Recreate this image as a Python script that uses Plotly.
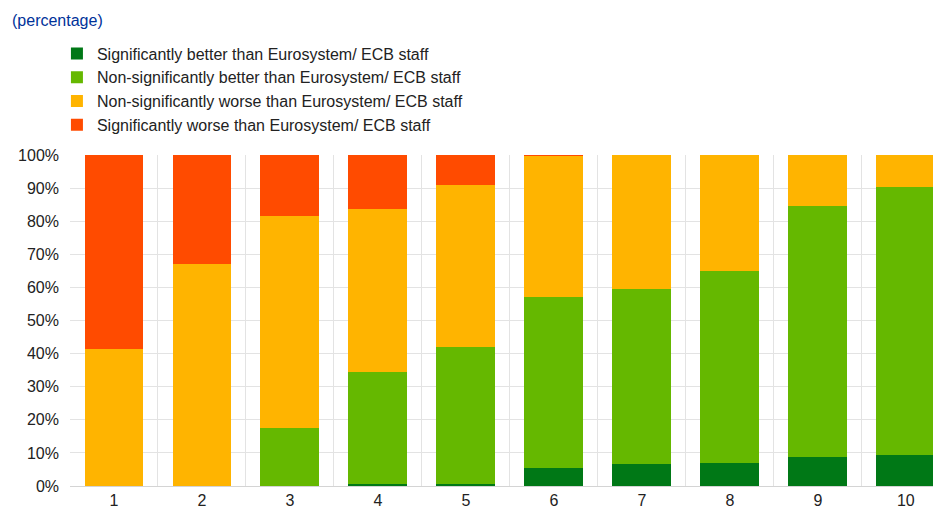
import plotly.graph_objects as go

# Categories and shares (percent)
categories = [1, 2, 3, 4, 5, 6, 7, 8, 9, 10]
sig_better = [0, 0, 0, 0.7, 0.7, 5.5, 6.6, 6.8, 8.9, 9.5]
nonsig_better = [0, 0, 17.4, 33.6, 41.2, 51.5, 52.9, 58.1, 75.7, 80.9]
nonsig_worse = [41.5, 67.1, 64.3, 49.5, 49.0, 42.8, 40.5, 35.1, 15.4, 9.6]
sig_worse = [58.5, 32.9, 18.3, 16.2, 9.1, 0.2, 0, 0, 0, 0]

series = [
    ("Significantly better than Eurosystem/ ECB staff", sig_better, "#007816"),
    ("Non-significantly better than Eurosystem/ ECB staff", nonsig_better, "#65B800"),
    ("Non-significantly worse than Eurosystem/ ECB staff", nonsig_worse, "#FFB400"),
    ("Significantly worse than Eurosystem/ ECB staff", sig_worse, "#FF4B00"),
]

fig = go.Figure()
for i, (name, vals, col) in enumerate(series):
    fig.add_trace(go.Bar(
        x=categories, y=vals, name=name, legendgroup="g%d" % i,
        marker=dict(color=col, line=dict(width=0)),
        hovertemplate="%{y:.1f}%<extra>" + name + "</extra>",
    ))

# the page body adds an 8px margin, so the figure is sized to fit inside it
fig.update_layout(
    width=933, height=504,
    barmode="stack", bargap=0.33,
    plot_bgcolor="white", paper_bgcolor="white",
    font=dict(family="Liberation Sans, Arial, sans-serif", size=16, color="#222222"),
    margin=dict(l=62, r=0, t=147, b=26),
    title=dict(
        text="(percentage)", xref="container", yref="container",
        x=4/933, y=1 - 12/504, xanchor="left", yanchor="middle",
        font=dict(size=16, color="#003299"),
    ),
    legend=dict(
        x=-0.015, y=1.358, xanchor="left", yanchor="top",
        traceorder="grouped", tracegroupgap=0,
        font=dict(size=16, color="#222222"),
        bgcolor="rgba(0,0,0,0)",
    ),
    xaxis=dict(
        range=[0.5, 10.4], tickmode="array", tickvals=categories,
        showgrid=False, showline=True, linecolor="#d4d4d4", linewidth=1,
        ticks="", tickfont=dict(size=16),
        minor=dict(showgrid=True, tick0=0.5, dtick=1, gridcolor="#e3e3e3", gridwidth=1),
    ),
    yaxis=dict(
        range=[0, 100], dtick=10, ticksuffix="%",
        showgrid=True, gridcolor="#e3e3e3", gridwidth=1,
        zeroline=False, ticks="", ticklabelstandoff=10, tickfont=dict(size=16),
    ),
)

fig.write_html("out.html")
